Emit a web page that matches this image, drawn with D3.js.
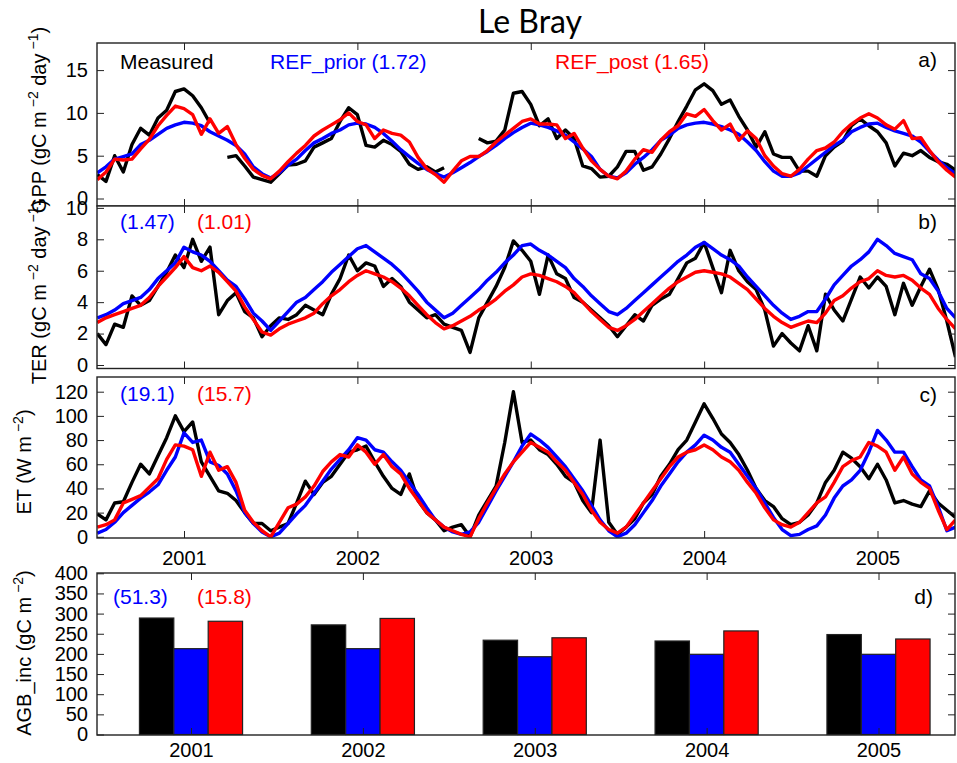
<!DOCTYPE html>
<html><head><meta charset="utf-8">
<script src="https://cdn.jsdelivr.net/npm/d3@7"></script>
<style>body{margin:0;background:#fff}</style>
</head><body>
<svg id="c" width="957" height="763"></svg>
<script>
// ---------- DATA ----------
const startYear = 2000.5, stepYear = 0.05;   // time of first sample, sample spacing (years)
const yearTicks = [2001, 2002, 2003, 2004, 2005];
const yearLabels = ["2001", "2002", "2003", "2004", "2005"];
const seriesNames = ["Measured", "REF_prior (1.72)", "REF_post (1.65)"];

const gppMeasured = [2.8,2.0,5.0,3.1,6.3,8.2,7.4,9.4,10.3,12.5,
 12.8,12.0,10.6,8.8,null,4.8,5.0,3.8,2.5,2.2,
 1.9,2.9,3.9,4.0,4.4,6.0,6.5,7.0,9.0,10.6,
 9.8,6.2,6.0,6.8,6.3,5.5,4.0,3.4,3.7,3.1,
 3.6,null,null,null,7.0,6.5,6.7,8.0,12.3,12.5,
 11.0,8.5,9.3,7.0,8.0,7.0,3.8,3.5,2.5,2.6,
 3.7,5.5,5.5,3.3,3.7,5.2,7.0,9.0,10.8,12.7,
 13.4,12.6,11.0,11.5,9.6,8.0,6.0,7.8,5.2,4.8,
 4.8,3.2,3.2,2.6,5.0,6.0,6.7,8.5,9.3,8.5,
 7.8,6.5,3.8,5.3,5.0,5.6,4.8,4.3,4.0,3.3];
const gppPrior = [3.0,3.7,4.6,4.9,5.2,6.3,6.8,7.5,8.2,8.6,
 8.9,8.8,8.5,7.8,7.3,6.8,6.2,5.2,3.7,2.9,
 2.4,3.0,3.9,4.6,5.6,6.5,7.0,7.6,8.0,8.6,
 8.8,8.7,8.3,7.6,6.7,5.7,4.9,4.1,3.4,2.9,
 2.5,3.0,3.6,4.2,4.9,5.5,6.2,7.0,7.7,8.3,
 8.8,8.6,8.3,7.9,7.4,6.6,5.8,4.9,3.4,2.6,
 2.4,3.0,4.0,4.8,5.7,6.8,7.4,8.2,8.6,8.8,
 8.9,8.7,8.4,8.0,7.5,6.6,5.6,4.3,3.2,2.6,
 2.6,3.0,3.8,4.6,5.4,6.2,6.8,7.8,8.3,8.7,
 8.8,8.3,7.9,7.6,7.3,6.6,5.5,4.5,3.6,2.9];
const gppPost = [2.2,3.1,4.6,4.5,4.6,5.8,6.9,8.5,9.7,10.8,
 10.5,9.8,7.5,9.3,7.6,8.4,6.3,4.7,3.4,2.7,
 2.3,3.2,4.3,5.3,6.2,7.3,8.0,8.6,9.2,10.0,
 9.0,8.6,7.0,8.0,7.6,7.4,6.6,4.8,3.5,2.8,
 1.9,3.2,4.4,4.9,4.9,5.6,6.6,7.4,8.2,9.0,
 9.3,8.7,8.7,8.6,7.0,7.6,5.9,4.4,3.4,2.6,
 2.3,3.2,4.6,5.7,5.4,6.8,7.8,8.5,9.9,9.6,
 10.4,9.1,8.0,8.7,6.8,7.9,7.0,5.0,3.8,2.9,
 2.6,3.4,4.6,5.6,5.9,6.6,7.8,8.7,9.4,9.9,
 9.4,8.6,8.1,9.1,7.0,7.1,5.6,4.3,3.3,2.5];

const terMeasured = [2.0,1.3,2.6,2.4,4.4,3.8,4.1,5.0,5.9,7.0,
 6.2,8.0,6.6,7.5,3.2,4.1,4.6,3.4,3.0,1.8,
 2.5,3.0,2.9,3.2,3.8,3.5,3.2,4.5,5.5,7.0,
 6.0,6.5,6.3,5.0,5.5,5.0,4.0,3.5,3.0,3.2,
 2.6,2.4,2.2,0.8,3.0,4.0,5.0,6.2,7.9,7.3,
 6.6,4.5,7.0,5.8,5.5,4.3,4.0,3.5,3.0,2.5,
 1.8,2.5,3.2,2.8,3.8,4.2,4.5,5.5,6.5,6.8,
 7.8,6.2,4.6,7.3,6.0,5.3,4.8,3.5,1.2,2.0,
 1.4,0.9,2.5,0.9,4.5,3.5,2.8,4.2,5.6,4.9,
 5.6,5.0,3.2,5.2,3.8,5.0,6.1,4.8,2.8,0.5];
const terPrior = [3.0,3.2,3.5,3.9,4.1,4.3,4.8,5.5,6.0,6.5,
 7.5,7.2,7.0,6.6,6.0,5.4,5.0,4.2,3.3,2.8,
 2.2,2.8,3.4,4.0,4.3,4.8,5.3,5.9,6.4,6.9,
 7.4,7.6,7.2,6.8,6.4,5.9,5.3,4.7,4.0,3.5,
 3.0,3.3,3.8,4.3,4.8,5.4,5.9,6.5,7.0,7.6,
 7.7,7.3,7.0,6.6,6.2,5.5,5.0,4.4,3.9,3.4,
 3.2,3.6,4.1,4.6,5.1,5.6,6.1,6.6,7.0,7.5,
 7.8,7.4,7.0,6.7,6.3,5.6,5.0,4.4,3.8,3.3,
 2.9,3.1,3.4,3.4,4.2,5.1,5.7,6.3,6.7,7.2,
 8.0,7.6,7.1,6.9,6.7,5.8,5.5,4.7,3.6,3.0];
const terPost = [2.7,3.0,3.2,3.4,3.6,3.8,4.3,5.0,5.6,6.2,
 6.9,6.2,6.0,6.3,5.9,5.3,4.7,3.7,2.9,2.1,
 1.9,2.3,2.6,2.8,3.0,3.3,3.9,4.4,4.8,5.3,
 5.7,6.0,5.8,5.6,5.3,4.9,4.4,3.8,3.2,2.7,
 2.3,2.5,2.8,3.1,3.5,3.8,4.2,4.7,5.1,5.6,
 5.8,5.7,5.5,5.3,5.0,4.6,4.0,3.4,2.9,2.4,
 2.2,2.5,2.9,3.4,3.9,4.4,4.9,5.3,5.6,5.9,
 6.0,5.9,5.8,5.6,5.2,4.8,4.2,3.6,3.1,2.7,
 2.4,2.6,2.8,2.7,3.3,4.1,4.4,4.9,5.3,5.5,
 6.0,5.7,5.6,5.7,5.4,4.9,4.5,3.6,2.9,2.3];

const etMeasured = [19,14,28,29,45,60,52,67,82,100,
 87,95,62,50,38,36,30,20,11,11,
 5,8,11,28,46,35,45,50,60,70,
 72,75,62,50,40,35,52,30,20,14,
 5,8,10,0,18,30,42,78,120,78,
 80,72,68,60,50,45,30,20,80,12,
 2,8,15,28,35,50,60,72,80,95,
 110,98,85,78,68,55,40,30,25,15,
 10,12,18,28,45,55,70,65,58,48,
 60,47,28,30,27,25,38,28,22,16];
const etPrior = [3,6,12,20,26,32,37,43,55,66,
 86,78,80,62,59,52,38,20,11,4,
 0,3,11,19,26,36,46,56,64,72,
 82,80,72,70,62,55,45,35,24,14,
 8,4,2,4,12,25,38,50,62,75,
 85,80,74,66,58,48,38,26,14,5,
 0,3,10,20,30,42,52,62,70,76,
 84,80,74,70,60,50,40,28,16,6,
 1,2,6,9,18,32,42,47,55,70,
 88,80,70,70,58,47,42,25,5,8];
const etPost = [8,10,14,28,31,34,41,48,64,76,
 75,72,50,70,55,58,45,22,12,5,
 0,12,24,27,33,42,54,62,68,66,
 76,70,60,68,58,52,40,30,20,14,
 8,5,2,0,15,28,40,52,62,70,
 78,74,70,62,55,45,35,22,12,6,
 3,8,18,28,38,48,58,66,70,72,
 76,72,66,62,55,45,36,24,14,10,
 8,12,20,28,33,45,58,63,66,78,
 75,70,55,66,52,45,40,22,6,14];

const agbMeasured = [289, 272, 234, 232, 248];
const agbPrior    = [213, 213, 193, 199, 199];
const agbPost     = [281, 288, 240, 257, 237];

const gppTicks = [0, 5, 10, 15];
const terTicks = [0, 2, 4, 6, 8, 10];
const etTicks  = [0, 20, 40, 60, 80, 100, 120];
const agbTicks = [0, 50, 100, 150, 200, 250, 300, 350, 400];

const rmse = { ter: ["(1.47)", "(1.01)"], et: ["(19.1)", "(15.7)"], agb: ["(51.3)", "(15.8)"] };

// ---------- LAYOUT ----------
const FONT = "'Liberation Sans', Arial, Helvetica, sans-serif";
const COLORS = ["#000000", "#0000ff", "#ff0000"];
const L = 97, R = 955;
const svg = d3.select("#c").style("font-family", FONT);

const xT = d3.scaleLinear().domain([2001, 2005]).range([184, 877.5]);
const xD = d3.scaleLinear().domain([2001, 2005]).range([191, 878.5]);
const tOf = i => startYear + i * stepYear;

const panels = [
  { id: "a", top: 43, bottom: 206, y: d3.scaleLinear().domain([0, 15]).range([198.5, 70.1]), ticks: gppTicks,
    series: [gppMeasured, gppPrior, gppPost] },
  { id: "b", top: 206, bottom: 368.5, y: d3.scaleLinear().domain([0, 8]).range([365, 239.3]), ticks: terTicks,
    series: [terMeasured, terPrior, terPost] },
  { id: "c", top: 377, bottom: 538, y: d3.scaleLinear().domain([0, 120]).range([536.8, 391.7]), ticks: etTicks,
    series: [etMeasured, etPrior, etPost], xlabels: true }
];

function styleAxis(g) {
  g.select(".domain").remove();
  g.selectAll(".tick line").attr("stroke", "#222").attr("stroke-width", 1);
  g.selectAll("text").attr("font-family", FONT).attr("font-size", 20).attr("fill", "#000");
}

function drawFrame(top, bottom) {
  svg.append("rect").attr("x", L).attr("y", top).attr("width", R - L).attr("height", bottom - top)
    .attr("fill", "none").attr("stroke", "#222").attr("stroke-width", 1.4);
}

panels.forEach(p => {
  const clipId = "clip" + p.id;
  svg.append("clipPath").attr("id", clipId).append("rect")
    .attr("x", L).attr("y", p.top).attr("width", R - L).attr("height", p.bottom - p.top);
  // white background so lower panel covers upper one
  svg.append("rect").attr("x", L).attr("y", p.top).attr("width", R - L).attr("height", p.bottom - p.top).attr("fill", "#fff");
  const line = d3.line().defined(d => d != null)
    .x((d, i) => xT(tOf(i))).y(d => p.y(d));
  const gl = svg.append("g").attr("clip-path", `url(#${clipId})`);
  p.series.forEach((s, k) => {
    gl.append("path").attr("d", line(s)).attr("fill", "none")
      .attr("stroke", COLORS[k]).attr("stroke-width", 3.4).attr("stroke-linejoin", "round");
  });
  svg.append("g").attr("transform", `translate(${L},0)`)
    .call(d3.axisLeft(p.y).tickValues(p.ticks).tickSize(-7).tickPadding(9).tickFormat(d3.format("d"))).call(styleAxis);
  svg.append("g").attr("transform", `translate(${R},0)`)
    .call(d3.axisRight(p.y).tickValues(p.ticks.filter(t => p.y(t) > p.top + 2 && p.y(t) < p.bottom - 2)).tickSize(-7).tickFormat("")).call(styleAxis);
  svg.append("g").attr("transform", `translate(0,${p.top})`)
    .call(d3.axisTop(xT).tickValues(yearTicks).tickSize(-7).tickFormat("")).call(styleAxis);
  svg.append("g").attr("transform", `translate(0,${p.bottom})`)
    .call(d3.axisBottom(xT).tickValues(yearTicks).tickSize(-7).tickPadding(12.5)
      .tickFormat(p.xlabels ? ((d, i) => yearLabels[i]) : "")).call(styleAxis);
  drawFrame(p.top, p.bottom);
});

// ---------- panel d (bars) ----------
const pd = { top: 573, bottom: 735, y: d3.scaleLinear().domain([0, 400]).range([734.5, 573.3]) };
const barW = 0.2;
[agbMeasured, agbPrior, agbPost].forEach((vals, k) => {
  svg.append("g").selectAll("rect").data(vals).join("rect")
    .attr("x", (d, i) => xD(yearTicks[i] + (k - 1) * barW - barW / 2))
    .attr("width", xD(2001 + barW) - xD(2001))
    .attr("y", d => pd.y(d))
    .attr("height", d => pd.y(0) - pd.y(d))
    .attr("fill", COLORS[k]).attr("stroke", "#222").attr("stroke-width", 1.2);
});
svg.append("g").attr("transform", `translate(${L},0)`)
  .call(d3.axisLeft(pd.y).tickValues(agbTicks).tickSize(-7).tickPadding(9)).call(styleAxis);
svg.append("g").attr("transform", `translate(${R},0)`)
  .call(d3.axisRight(pd.y).tickValues(agbTicks.slice(1, -1)).tickSize(-7).tickFormat("")).call(styleAxis);
svg.append("g").attr("transform", `translate(0,${pd.top})`)
  .call(d3.axisTop(xD).tickValues(yearTicks).tickSize(-7).tickFormat("")).call(styleAxis);
svg.append("g").attr("transform", `translate(0,${pd.bottom})`)
  .call(d3.axisBottom(xD).tickValues(yearTicks).tickSize(-7).tickPadding(8).tickFormat((d, i) => yearLabels[i])).call(styleAxis);
drawFrame(pd.top, pd.bottom);

// ---------- texts ----------
svg.append("text").attr("x", 530).attr("y", 33).attr("text-anchor", "middle")
  .attr("font-family", "Lato, 'DejaVu Sans', sans-serif").attr("font-size", 32).text("Le Bray");

function txt(x, y, s, color, anchor) {
  svg.append("text").attr("x", x).attr("y", y).attr("font-size", 21).attr("fill", color)
    .attr("text-anchor", anchor || "start").text(s);
}
txt(120, 69, seriesNames[0], COLORS[0]);
txt(270, 69, seriesNames[1], COLORS[1]);
txt(555, 69, seriesNames[2], COLORS[2]);
txt(937, 67, "a)", "#000", "end");
txt(937, 229, "b)", "#000", "end");
txt(937, 402, "c)", "#000", "end");
txt(933, 604, "d)", "#000", "end");
txt(120, 229, rmse.ter[0], COLORS[1]); txt(197, 229, rmse.ter[1], COLORS[2]);
txt(120, 401, rmse.et[0], COLORS[1]);  txt(197, 401, rmse.et[1], COLORS[2]);
txt(113, 604, rmse.agb[0], COLORS[1]); txt(197, 604, rmse.agb[1], COLORS[2]);

// rotated y labels with superscripts
function ylab(x, y, parts) {
  const t = svg.append("text").attr("transform", `translate(${x},${y}) rotate(-90)`)
    .attr("text-anchor", "middle").attr("font-size", 20).attr("fill", "#000");
  parts.forEach(([s, sup]) => {
    const ts = t.append("tspan").text(s);
    if (sup) ts.attr("font-size", 14).attr("dy", -8).attr("dx", 4);
    else ts.attr("dy", t.node().childNodes.length > 1 ? 8 : 0);
  });
}
ylab(46, 120, [["GPP (gC m"], ["\u22122", 1], [" day"], ["\u22121", 1], [")"]]);
ylab(46, 292, [["TER (gC m"], ["\u22122", 1], [" day"], ["\u22121", 1], [")"]]);
ylab(31, 462, [["ET (W m"], ["\u22122", 1], [")"]]);
ylab(31, 653, [["AGB_inc (gC m"], ["\u22122", 1], [")"]]);
</script>
</body></html>
